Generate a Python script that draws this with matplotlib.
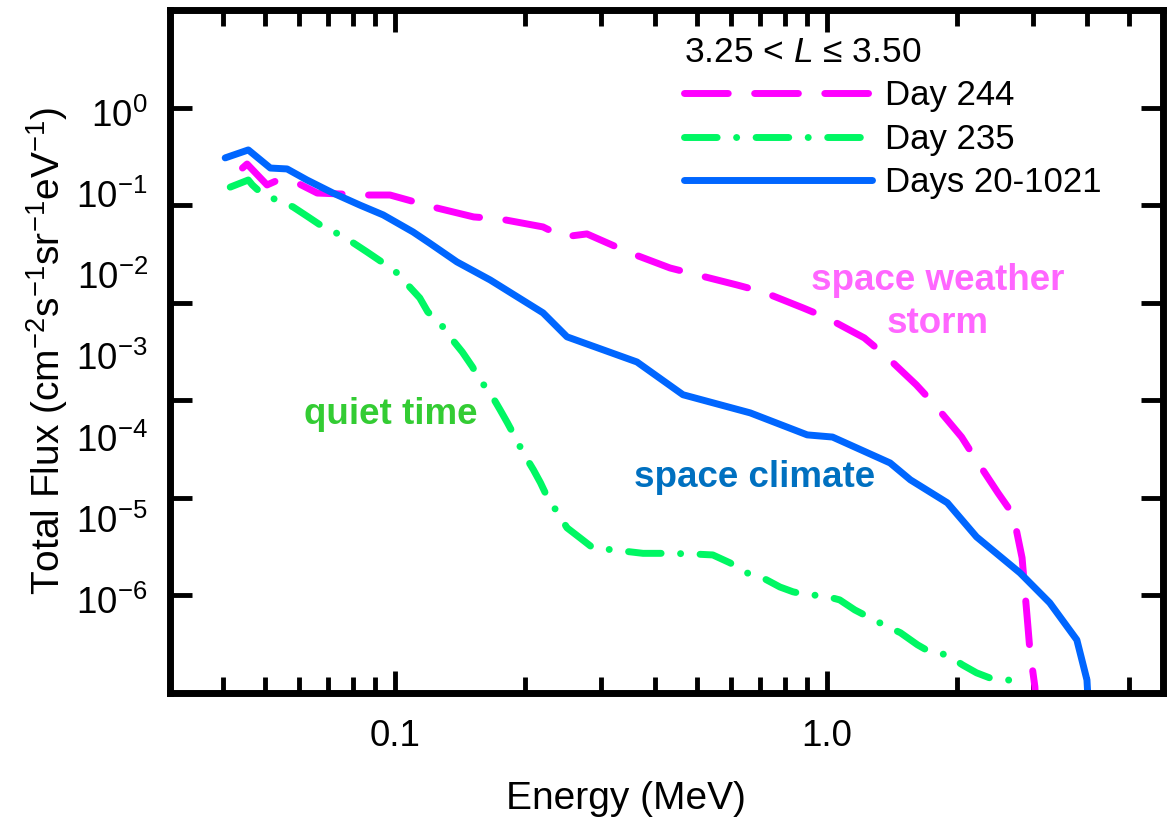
import matplotlib
matplotlib.use('Agg')
import matplotlib.pyplot as plt
import numpy as np

plt.rcParams['font.family'] = ['Liberation Sans', 'DejaVu Sans']
plt.rcParams['mathtext.fontset'] = 'custom'
plt.rcParams['mathtext.rm'] = 'Liberation Sans'
plt.rcParams['mathtext.it'] = 'Liberation Sans:italic'
plt.rcParams['mathtext.bf'] = 'Liberation Sans:bold'

# Day 244 (storm)
E_storm = [0.0443, 0.0454, 0.0505, 0.0536, 0.0593, 0.0660, 0.0861, 0.0973, 0.107, 0.122,
           0.152, 0.175, 0.220, 0.245, 0.278, 0.310, 0.350, 0.433, 0.500, 0.619,
           0.711, 0.880, 1.00, 1.22, 1.36, 1.61, 1.76, 2.05, 2.20, 2.49,
           2.70, 2.83, 2.92, 2.95, 3.03, 3.06]
F_storm = [0.240, 0.264, 0.161, 0.181, 0.169, 0.133, 0.127, 0.127, 0.113, 0.0959,
           0.0757, 0.0722, 0.0598, 0.0472, 0.0507, 0.041, 0.0324, 0.0227, 0.0193, 0.0152,
           0.0129, 0.00885, 0.00699, 0.00436, 0.00292, 0.00144, 9.4e-4, 4.2e-4, 2.57e-4, 1.12e-4,
           6.7e-5, 2.43e-5, 4.8e-6, 2.77e-6, 1.16e-6, 5e-7]

# Day 235 (quiet)
E_quiet = [0.0415, 0.0457, 0.0467, 0.0495, 0.0533, 0.0580, 0.0629, 0.0681, 0.0746, 0.0800,
           0.0861, 0.0938, 0.101, 0.107, 0.114, 0.119, 0.127, 0.134, 0.143, 0.151,
           0.157, 0.166, 0.175, 0.182, 0.190, 0.198, 0.209, 0.217, 0.225, 0.238,
           0.250, 0.268, 0.287, 0.320, 0.375, 0.417, 0.482, 0.544, 0.596, 0.653,
           0.711, 0.778, 0.834, 0.899, 0.979, 1.07, 1.16, 1.31, 1.48, 1.62,
           1.73, 1.90, 2.06, 2.22, 2.38, 2.61, 2.75]
F_quiet = [0.153, 0.181, 0.161, 0.127, 0.113, 0.0959, 0.0757, 0.0598, 0.0496, 0.041,
           0.0331, 0.0256, 0.0202, 0.0152, 0.0112, 0.00805, 0.00621, 0.00447, 0.00313, 0.0022,
           0.00162, 0.00119, 7.98e-4, 5.87e-4, 4.12e-4, 2.89e-4, 1.94e-4, 1.43e-4, 1.02e-4, 7.0e-5,
           4.93e-5, 3.89e-5, 3.07e-5, 2.93e-5, 2.7e-5, 2.7e-5, 2.67e-5, 2.6e-5, 2.16e-5, 1.7e-5,
           1.51e-5, 1.22e-5, 1.09e-5, 1.01e-5, 1.0e-5, 9.0e-6, 7.1e-6, 5.37e-6, 4.14e-6, 3.12e-6,
           2.64e-6, 2.46e-6, 1.94e-6, 1.61e-6, 1.43e-6, 1.37e-6, 1.30e-6]

# Days 20-1021 (average)
E_avg = [0.0404, 0.0457, 0.0514, 0.0562, 0.0625, 0.0718, 0.0829, 0.0938, 0.110, 0.120,
         0.139, 0.166, 0.220, 0.250, 0.363, 0.464, 0.664, 0.90, 1.03, 1.40,
         1.56, 1.90, 2.22, 2.80, 3.28, 3.79, 4.00, 4.05]
F_avg = [0.305, 0.368, 0.240, 0.235, 0.181, 0.133, 0.100, 0.0794, 0.0531, 0.041,
         0.0262, 0.0171, 0.00787, 0.00447, 0.00247, 0.00114, 7.43e-4, 4.42e-4, 4.2e-4, 2.28e-4,
         1.53e-4, 8.9e-5, 3.98e-5, 1.7e-5, 8.4e-6, 3.5e-6, 1.36e-6, 5e-7]

ytick_text = ['$10^{0}$', '$10^{-1}$', '$10^{-2}$', '$10^{-3}$', '$10^{-4}$', '$10^{-5}$', '$10^{-6}$']

fig = plt.figure(figsize=(11.69, 8.22), dpi=100)
ax = fig.add_axes([170 / 1169, 1 - 693 / 822, 993 / 1169, 683 / 822])

lw = 5
ax.plot(E_storm, F_storm, color='#ff00ff', lw=lw, dashes=(6.3, 3.8),
        dash_capstyle='round', solid_joinstyle='round', label='Day 244')
ax.plot(E_quiet, F_quiet, color='#00f763', lw=lw, dashes=(4.7, 2.8, 0.01, 2.8),
        dash_capstyle='round', solid_joinstyle='round', label='Day 235')
ax.plot(E_avg, F_avg, color='#0066ff', lw=lw, solid_capstyle='round',
        solid_joinstyle='round', label='Days 20-1021')

ax.set_xscale('log')
ax.set_yscale('log')
ax.set_xlim(0.0301, 6.0)
ax.set_ylim(1e-6, 1e1)

# x ticks
ax.set_xticks([0.1, 1.0], ['0.1', '1.0'])
minor_x = [m * d for d in (0.01, 0.1, 1.0) for m in range(2, 10)]
ax.set_xticks([v for v in minor_x if 0.0301 < v < 6.0], minor=True)
ax.tick_params(axis='x', which='major', direction='in', length=16, width=3.5,
               top=True, labelsize=26.5, pad=19)
ax.tick_params(axis='x', which='minor', direction='in', length=11.5, width=3.5,
               top=True, labelbottom=False)

# y ticks: tick marks at decades, labels where the original placed them
ax.set_yticks(10 ** np.linspace(-0.055, -5.045, 7), ytick_text)
ax.set_yticks([10.0 ** k for k in range(0, -6, -1)], minor=True)
ax.yaxis.set_minor_formatter(matplotlib.ticker.NullFormatter())
ax.tick_params(axis='y', which='major', length=0, labelsize=26.5, pad=16)
ax.tick_params(axis='y', which='minor', direction='in', length=16, width=3.5, right=True)

for s in ax.spines.values():
    s.set_linewidth(5)

ax.set_xlabel('Energy (MeV)', fontsize=28, labelpad=19, x=0.459)
ax.set_ylabel('Total Flux (cm$^{-2}$s$^{-1}$sr$^{-1}$eV$^{-1}$)', fontsize=28, labelpad=4)

ax.legend(title='3.25 < $L$ ≤ 3.50', loc='upper left',
          bbox_to_anchor=(684 / 1169, 1 - 36 / 822), bbox_transform=fig.transFigure,
          frameon=False, fontsize=25, title_fontsize=25.5, alignment='left',
          handlelength=5.4, handletextpad=0.4, labelspacing=0.3,
          borderpad=0, borderaxespad=0)

ax.text(1.8, 1.02e-2, 'space weather\nstorm', color='#ff66ff', fontsize=26.5,
        fontweight='bold', ha='center', va='center', linespacing=1.3)
ax.text(0.0979, 7.1e-4, 'quiet time', color='#33cc33', fontsize=26.5,
        fontweight='bold', ha='center', va='center')
ax.text(0.678, 1.6e-4, 'space climate', color='#0070c0', fontsize=26.5,
        fontweight='bold', ha='center', va='center')

fig.savefig('out.png', dpi=100)
